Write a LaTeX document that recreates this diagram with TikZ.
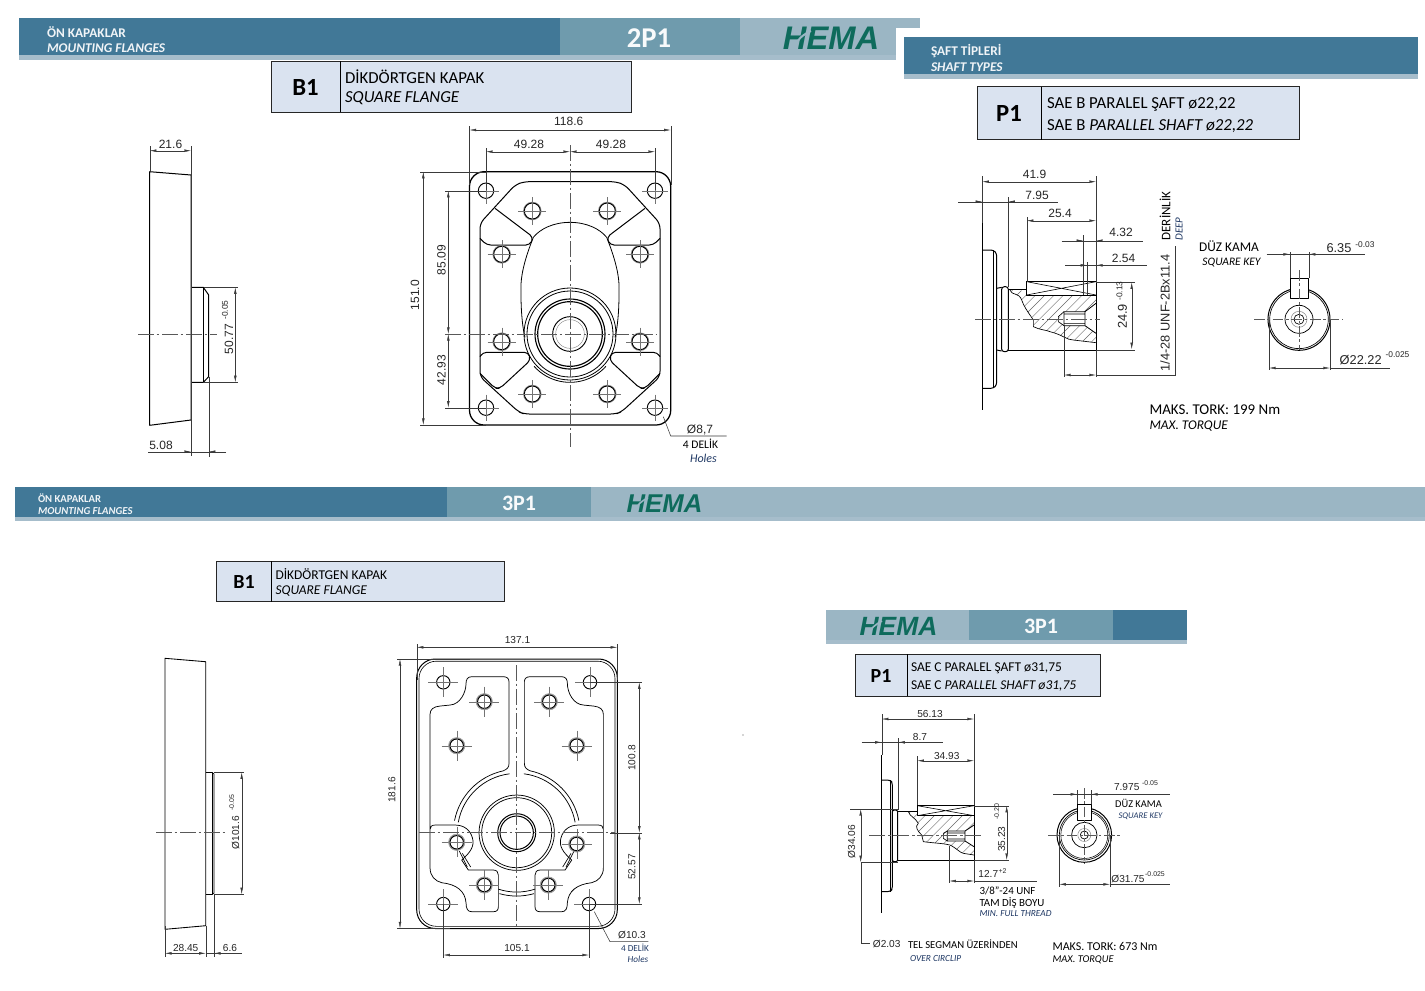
\documentclass[tikz,border=0pt]{standalone}
\usepackage{fontspec}
\setmainfont{Carlito}
\newfontfamily\arialf{Liberation Sans}
\usetikzlibrary{arrows.meta,calc}
\definecolor{hdark}{HTML}{417897}
\definecolor{hmid}{HTML}{6F9BAD}
\definecolor{hlight}{HTML}{9BB6C4}
\definecolor{hshadow}{HTML}{A6BDCB}
\definecolor{boxfill}{HTML}{DAE3F0}
\definecolor{logog}{HTML}{0E6B5C}
\definecolor{dimc}{HTML}{3A3A3A}
\definecolor{linkb}{HTML}{1F3864}
\tikzset{
 part/.style={draw=black,line width=.75pt,line join=round},
 thinp/.style={draw=black,line width=.45pt},
 ghost/.style={draw=black!45,line width=.5pt},
 dimln/.style={draw=dimc,line width=.3pt},
 crossln/.style={draw=black!55,line width=.3pt},
 dimarr/.style={dimln,{Latex[length=5pt,width=2pt]}-{Latex[length=5pt,width=2pt]}},
 arrend/.style={dimln,-{Latex[length=5pt,width=2pt]}},
 cline/.style={draw=black!65,line width=.35pt,dash pattern=on 12pt off 2pt on 2pt off 2pt},
 hatchln/.style={draw=black!60,line width=.3pt},
 lab/.style={inner sep=0pt,outer sep=0pt,text=black!85},
 dimA/.style={font=\arialf\fontsize{9}{10}\selectfont},
 dimL/.style={font=\arialf\fontsize{9.6}{11}\selectfont},
 dimB/.style={font=\arialf\fontsize{7.6}{9}\selectfont},
 dimS/.style={font=\arialf\fontsize{6.3}{7}\selectfont},
 dimT/.style={font=\arialf\fontsize{5.2}{6}\selectfont},
 hd/.style={font=\bfseries\fontsize{10}{12}\selectfont,text=white!92!hdark},
 hdi/.style={font=\bfseries\itshape\fontsize{10}{12}\selectfont,text=white!92!hdark},
 hdsm/.style={font=\bfseries\fontsize{8}{9}\selectfont,text=white!92!hdark},
 hdsmi/.style={font=\bfseries\itshape\fontsize{8}{9}\selectfont,text=white!92!hdark},
 big/.style={font=\bfseries\fontsize{21.5}{24}\selectfont,text=white!95!hmid},
 bigs/.style={font=\bfseries\fontsize{16.5}{18}\selectfont,text=white!95!hmid},
 logo/.style={font=\arialf\bfseries\itshape\fontsize{24.5}{26}\selectfont,text=logog},
 logos/.style={font=\arialf\bfseries\itshape\fontsize{19.3}{20}\selectfont,text=logog},
 logot/.style={font=\arialf\bfseries\itshape\fontsize{19.8}{20}\selectfont,text=logog},
 logobar/.style={draw=hlight,line width=1.5pt},
 boxbg/.style={draw=black!85,line width=.7pt,fill=boxfill},
 tagb/.style={font=\bfseries\fontsize{18.5}{20}\selectfont,text=black},
 tags/.style={font=\bfseries\fontsize{15}{17}\selectfont,text=black},
 ca/.style={font=\fontsize{12.6}{14}\selectfont,text=black,anchor=west},
 cai/.style={font=\itshape\fontsize{12.6}{14}\selectfont,text=black,anchor=west},
 cb/.style={font=\fontsize{10.1}{12}\selectfont,text=black,anchor=west},
 cbi/.style={font=\itshape\fontsize{10.1}{12}\selectfont,text=black,anchor=west},
}
\newcounter{tn}
\newcommand{\tx}[4][]{\stepcounter{tn}\node[lab,#1] (t\arabic{tn}) at (#2,#3) {#4};}
\newcommand{\holeA}[4]{\draw[part,line width=.7pt] (#1,#2) circle (#3);
 \draw[crossln] (#1-#4,#2)--(#1+#4,#2) (#1,#2-#4)--(#1,#2+#4);}
\newcommand{\holeB}[4]{\draw[ghost,line width=.8pt] (#1,#2) circle (#3+.7);\holeA{#1}{#2}{#3}{#4}}
\begin{document}
\begin{tikzpicture}[x=.75pt,y=-.75pt]
\useasboundingbox (0,0) rectangle (1425,990);
\fill[white] (0,0) rectangle (1425,990);
%%%% header bars
\fill[hlight] (740,18) rectangle (920,28);
\fill[hlight] (740,18) rectangle (896,55);
\fill[hshadow] (19,55) rectangle (896,59.5);
\fill[hdark] (19,18) rectangle (560,55);
\fill[hmid] (560,18) rectangle (740,55);
\fill[hshadow] (904,74) rectangle (1418,78.5);
\fill[hdark] (904,37) rectangle (1418,74);
\fill[hshadow] (15,517) rectangle (1425,520.5);
\fill[hdark] (15,487) rectangle (447,517);
\fill[hmid] (447,487) rectangle (591,517);
\fill[hlight] (591,487) rectangle (1425,517);
\fill[hshadow] (826,640) rectangle (1187,643.5);
\fill[hlight] (826,610) rectangle (969,640);
\fill[hmid] (969,610) rectangle (1113,640);
\fill[hdark] (1113,610) rectangle (1187,640);
\tx[hd,anchor=west]{47}{32.5}{ÖN KAPAKLAR}
\tx[hdi,anchor=west]{47}{48.5}{MOUNTING FLANGES}
\tx[big]{649}{38}{2P1}
\tx[logo]{831}{38.5}{HEMA}
\draw[logobar] (794,47.5) .. controls (797,40) and (802,35) .. (811,31);
\tx[hd,anchor=west]{931}{51.5}{ŞAFT TİPLERİ}
\tx[hdi,anchor=west]{931}{67.5}{SHAFT TYPES}
\tx[hdsm,anchor=west]{38}{498.5}{ÖN KAPAKLAR}
\tx[hdsmi,anchor=west]{38}{511.5}{MOUNTING FLANGES}
\tx[bigs]{519}{503}{3P1}
\tx[logos]{664.5}{503.5}{HEMA}
\draw[logobar,line width=1.2pt] (635,511) .. controls (637,505) and (641,501) .. (648,498);
\tx[logot]{898.5}{626.5}{HEMA}
\draw[logobar,line width=1.2pt] (868.5,634.5) .. controls (870.5,628.5) and (875,624.5) .. (882,621);
\tx[bigs]{1041}{626}{3P1}
%%%% title boxes
\draw[boxbg] (271,61) rectangle (631,112); \draw[line width=.7pt] (340,61)--(340,112);
\tx[tagb]{305.5}{87.5}{B1}
\tx[ca]{345}{76.5}{DİKDÖRTGEN KAPAK}
\tx[cai]{345}{98.5}{SQUARE FLANGE}
\draw[boxbg] (977,86.5) rectangle (1299,139.5); \draw[line width=.7pt] (1041,86.5)--(1041,139.5);
\tx[tagb]{1009}{113.5}{P1}
\tx[ca]{1047}{104.5}{SAE B PARALEL ŞAFT ø22,22}
\tx[ca]{1047}{126.5}{SAE B \textit{PARALLEL SHAFT ø22,22}}
\draw[boxbg] (216.5,561) rectangle (504,601.5); \draw[line width=.7pt] (271,561)--(271,601.5);
\tx[tags]{244}{582}{B1}
\tx[cb]{275.5}{574}{DİKDÖRTGEN KAPAK}
\tx[cbi]{275.5}{591}{SQUARE FLANGE}
\draw[boxbg] (855,654) rectangle (1100,696); \draw[line width=.7pt] (907,654)--(907,696);
\tx[tags]{881}{676}{P1}
\tx[cb]{911}{668.5}{SAE C PARALEL ŞAFT ø31,75}
\tx[cb]{911}{685.5}{SAE C \textit{PARALLEL SHAFT ø31,75}}
%%%% 2P1 side view
\draw[part] (149.7,171.7)--(191,175)--(191,420)--(149.7,425.3)--cycle;
\draw[part] (191,287.3)--(203.3,287.3)--(208.7,295)--(208.7,376.7)--(203.3,382.3)--(191,382.3);
\draw[part] (203.3,287.3)--(203.3,382.3);
\draw[cline] (138,334.3)--(217,334.3);
\draw[dimarr] (149.7,150.7)--(191,150.7);
\draw[dimln] (149.7,146)--(149.7,171) (191,146)--(191,456) (204,287.3)--(238,287.3) (204,382.3)--(238,382.3) (208.7,377)--(208.7,457);
\draw[dimarr] (235.3,287.3)--(235.3,382.3);
\draw[dimln] (148,451.7)--(191,451.7);
\draw[arrend] (170,451.7)--(191,451.7);
\draw[dimln] (191,451.7)--(226,451.7);
\draw[arrend] (226,451.7)--(208.7,451.7);
\tx[dimA]{170.5}{144}{21.6}
\tx[dimA,rotate=90]{229}{339}{50.77}
\tx[dimS,rotate=90]{225}{310}{-0.05}
\tx[dimA]{161}{445.5}{5.08}
%%%% 2P1 front view
\draw[part,line width=.95pt,rounded corners=11pt] (469.5,171.7) rectangle (670.7,425);
\foreach \s in {1,-1}{
\begin{scope}[shift={(570,334)},xscale=\s,x=.25pt,y=-.25pt]
 \draw[part,rounded corners=4pt] (0,-457)--(-138,-457)--(-165,-447)--(-270,-332)--(-270,128)--(-155,233)--(-138,240)--(0,240);
 \draw[part,rounded corners=3pt] (-225,-377)--(-110,-290)--(-120,-267)--(-250,-267)--(-270,-287);
 \draw[part,rounded corners=3pt] (-270,68)--(-262,55)--(-125,55)--(-118,78)--(-210,163)--(-225,163)--(-270,118);
 \draw[part,line width=.6pt] (0,-335) .. controls (-50,-335) and (-90,-315) .. (-110,-290) .. controls (-130,-240) and (-145,-190) .. (-147,-150) .. controls (-148,-90) and (-145,-30) .. (-135,10);
\end{scope}}
\begin{scope}[shift={(570,334)},x=.25pt,y=-.25pt]
 \draw[part,line width=.6pt] (42:145) arc[start angle=42,end angle=138,radius=145];
 \draw[part,line width=.6pt] (0,0) circle (138) (0,0) circle (129);
 \draw[part,line width=.85pt] (0,0) circle (105) (0,0) circle (97);
 \draw[part,line width=.7pt] (0,0) circle (52);
 \draw[ghost,line width=.35pt] (0,0) circle (43);
\end{scope}
\holeA{486}{190.7}{7.7}{13}\holeA{655}{190.7}{7.7}{13}\holeA{486}{407.7}{7.7}{13}\holeA{655}{407.7}{7.7}{13}
\holeB{532.3}{211}{8}{14}\holeB{607.3}{211}{8}{14}\holeB{501.7}{254.3}{8}{14}\holeB{640}{254.3}{8}{14}
\holeB{501.7}{341.7}{8}{14}\holeB{640}{341.7}{8}{14}\holeB{532.3}{394}{8}{14}\holeB{607.3}{394}{8}{14}
\draw[cline] (570,145)--(570,447);
\draw[cline] (445,334)--(657,334);
\draw[dimln] (469.5,126)--(469.5,185) (670.7,126)--(670.7,185) (486,148)--(486,190) (655,148)--(655,190);
\draw[dimarr] (469.5,130)--(670.7,130);
\draw[dimarr] (486,151.7)--(570,151.7);
\draw[dimarr] (570,151.7)--(655,151.7);
\draw[dimln] (420,171.7)--(486,171.7) (420,425)--(486,425) (445,190.7)--(486,190.7) (445,407.7)--(486,407.7);
\draw[dimarr] (423.3,171.7)--(423.3,425);
\draw[dimarr] (448.3,190.7)--(448.3,334);
\draw[dimarr] (448.3,334)--(448.3,407.7);
\tx[dimA]{568.7}{121}{118.6}
\tx[dimA]{529}{144.5}{49.28}
\tx[dimA]{611}{144.5}{49.28}
\tx[dimA,rotate=90]{415}{295}{151.0}
\tx[dimA,rotate=90]{441.5}{260}{85.09}
\tx[dimA,rotate=90]{441.5}{370}{42.93}
\draw[dimln,line width=.4pt] (663.3,416.7)--(670.7,436)--(726.7,436);
\tx[dimA]{700}{430}{Ø8,7}
\tx[font=\fontsize{8.7}{10}\selectfont,text=black]{700.5}{444}{4 DELİK}
\tx[font=\itshape\fontsize{9}{10}\selectfont,text=linkb]{703.5}{458.5}{Holes}
%%%% P1 shaft 2P1
\begin{scope}[shift={(950,160)},x=.25pt,y=-.25pt]
 \begin{scope}
 \clip (180,390)..controls (190,410) and (205,395) .. (215,420) .. controls (222,440) and (230,450) .. (250,480) -- (250,500) .. controls (270,510) and (290,510) .. (300,515) .. controls (340,525) and (350,540) .. (370,540) -- (438,548)--(438,405)--(230,405)--(225,392)--cycle;
 \foreach \i in {-20,8,...,460}{\draw[hatchln] (\i,570)--(\i+200,370);}
 \end{scope}
 \fill[white] (405,455)--(342,455)--(342,497)--(405,497)--(438,520)--(438,430)--cycle;
 \fill[white] (342,455)--(325,478)--(342,497)--cycle;
 \draw[part,line width=.5pt] (180,390)..controls (190,410) and (205,395) .. (215,420) .. controls (222,440) and (230,450) .. (250,480) -- (250,500) .. controls (270,510) and (290,510) .. (300,515) .. controls (340,525) and (350,540) .. (370,540) -- (438,548);
 \draw[part] (97,190)--(97,750);
 \draw[part,rounded corners=2pt] (97,270)--(130,270)--(140,280)--(140,675)--(130,685)--(97,685);
 \draw[part,line width=.5pt] (130,270)--(130,685);
 \draw[part,rounded corners=1.5pt] (140,385)--(155,382) (140,570)--(155,573);
 \draw[part,rounded corners=2pt] (155,380) rectangle (175,575);
 \draw[part] (175,388)--(230,388) (175,570)--(438,570)--(438,365)--(230,365)--(230,405)--(438,405);
 \draw[thinp] (230,365)--(438,405) (230,405)--(438,365);
 \draw[part,line width=.6pt] (438,430)--(405,455)--(342,455)--(342,497)--(405,497)--(438,520);
 \draw[part,line width=.5pt] (405,455)--(405,497) (342,455)--(325,470)--(325,485)--(342,497) (342,462)--(405,462) (342,490)--(405,490);
 \draw[cline] (75,478)--(450,478);
\end{scope}
\draw[dimln] (982.3,176)--(982.3,223) (1096,176)--(1096,282) (1008.3,197)--(1008.3,287) (1026.7,217)--(1026.7,282) (1083.3,235)--(1083.3,295) (1087.3,262)--(1087.3,295);
\draw[dimarr] (982.3,181.7)--(1096,181.7);
\draw[dimln] (958.3,201.7)--(1058.3,201.7);
\draw[arrend] (962,201.7)--(982.3,201.7);
\draw[arrend] (1026,201.7)--(1008.3,201.7);
\draw[dimarr] (1026.7,220.7)--(1096,220.7);
\draw[dimln] (1061.7,240.7)--(1143.3,240.7);
\draw[arrend] (1066,240.7)--(1083.3,240.7);
\draw[arrend] (1114,240.7)--(1096,240.7);
\draw[dimln] (1065,265.3)--(1146.7,265.3);
\draw[arrend] (1070,265.3)--(1087.3,265.3);
\draw[arrend] (1114,265.3)--(1096,265.3);
\draw[dimln] (1096,282)--(1135,282) (1096,350)--(1135,350);
\draw[dimarr] (1131.7,282.3)--(1131.7,349.3);
\draw[dimln] (1064,326)--(1064,377) (1096,350)--(1096,377) (1096,375)--(1175,375)--(1175,246);
\draw[dimarr] (1064,375)--(1096,375);
\tx[dimA]{1034.5}{174}{41.9}
\tx[dimA]{1037}{195.5}{7.95}
\tx[dimA]{1060}{213.5}{25.4}
\tx[dimA]{1121}{232.5}{4.32}
\tx[dimA]{1123.5}{258.5}{2.54}
\tx[dimL,rotate=90]{1122.5}{316.5}{24.9}
\tx[dimS,rotate=90]{1119.5}{291}{-0.13}
\tx[dimL,rotate=90]{1165}{313}{1/4-28 UNF-2Bx11.4}
\tx[font=\fontsize{9.8}{11}\selectfont,text=black,rotate=90]{1165}{216}{DERİNLİK}
\tx[font=\itshape\fontsize{8.2}{10}\selectfont,text=linkb,rotate=90]{1179}{229}{DEEP}
% key view 2P1
\draw[part] (1299,319.3) circle (31);
\draw[part,line width=.5pt] (1299,319.3) circle (29.3);
\fill[white] (1290,278.3) rectangle (1308.7,298.3);
\draw[part] (1290,278.3) rectangle (1308.7,298.3);
\draw[part,line width=.55pt] (1299,319.3) circle (14);
\draw[ghost,line width=.4pt] (1299,319.3) circle (8);
\draw[part,line width=.5pt] (1299,319.3) circle (5);
\draw[cline,dash pattern=on 8pt off 2pt on 2pt off 2pt] (1254,319.3)--(1343,319.3) (1299,270)--(1299,350);
\draw[dimln] (1290,252)--(1290,278) (1308.7,252)--(1308.7,278) (1269,320)--(1269,370) (1330,320)--(1330,370);
\draw[dimln] (1266.7,254.3)--(1365,254.3);
\draw[arrend] (1269,254.3)--(1290,254.3);
\draw[arrend] (1328,254.3)--(1308.7,254.3);
\draw[dimln] (1330,368)--(1390,368);
\draw[dimarr] (1269,368)--(1330,368);
\tx[dimL]{1339}{248}{6.35}
\tx[dimS]{1365}{244.5}{-0.03}
\tx[dimL]{1360.7}{360}{Ø22.22}
\tx[dimS]{1397.5}{355}{-0.025}
\tx[font=\fontsize{10}{12}\selectfont,text=black]{1229}{246}{DÜZ KAMA}
\tx[font=\itshape\fontsize{8.6}{10}\selectfont,text=black]{1231.5}{262.5}{SQUARE KEY}
\tx[font=\fontsize{11.2}{13}\selectfont,text=black,anchor=west]{1149.5}{410}{MAKS. TORK: 199 Nm}
\tx[font=\itshape\fontsize{10}{12}\selectfont,text=black,anchor=west]{1149.5}{426.5}{MAX. TORQUE}
%%%% 3P1 side view
\draw[part,line width=.65pt] (165,658.3)--(205.7,661.7)--(205.7,925.7)--(165,929.3)--cycle;
\draw[part,line width=.6pt] (205.7,772.3)--(212.7,772.3)--(212.7,894.3)--(205.7,894.3);
\draw[part,line width=.6pt] (212.7,773)--(214,774)--(214,893)--(212.7,894);
\draw[cline] (156,832.7)--(226,832.7);
\draw[dimln] (214,772.3)--(244,772.3) (214,894.3)--(244,894.3) (165,926)--(165,957) (205.7,926)--(205.7,957) (214,894)--(214,957);
\draw[dimarr] (241.7,772.3)--(241.7,894.3);
\draw[dimarr] (165,953.3)--(205.7,953.3);
\draw[dimln] (205.7,953.3)--(241.7,953.3);
\draw[arrend] (232,953.3)--(214,953.3);
\tx[dimB,rotate=90]{235.7}{832.7}{Ø101.6}
\tx[dimT,rotate=90]{231.7}{803}{-0.05}
\tx[dimB]{185.7}{947.5}{28.45}
\tx[dimB]{230}{947.5}{6.6}
%%%% 3P1 front view
\draw[part,line width=.75pt,rounded corners=14pt] (416.7,659) rectangle (617.3,928.5);
\draw[part,line width=.45pt,rounded corners=13pt] (419,661.2) rectangle (615,926.3);
\foreach \s in {1,-1}{
\begin{scope}[shift={(516.7,832.7)},xscale=\s,x=.25pt,y=-.25pt]
 \draw[part,line width=.55pt] (-23,-453)--(-23,-208) .. controls (-23,-195) and (-30,-190) .. (-40,-186);
 \draw[part,line width=.55pt] (-23,-453) .. controls (-23,-463) and (-30,-468) .. (-40,-468) -- (-135,-468) .. controls (-147,-468) and (-152,-460) .. (-152,-448) .. controls (-152,-420) and (-170,-385) .. (-200,-383) -- (-230,-380) .. controls (-250,-378) and (-260,-370) .. (-260,-355) -- (-260,105) .. controls (-260,130) and (-245,145) .. (-225,150) .. controls (-180,155) and (-155,175) .. (-152,210) .. controls (-152,228) and (-147,237) .. (-135,237) -- (-70,237) .. controls (-60,237) and (-55,232) .. (-55,222) -- (-55,127) .. controls (-55,118) and (-60,112) .. (-70,112) -- (-145,112) -- (-165,82) .. controls (-140,60) and (-125,40) .. (-133,15) .. controls (-140,-10) and (-160,-23) .. (-185,-23) -- (-245,-23) .. controls (-255,-23) and (-260,-18) .. (-260,-10);
 \draw[part,line width=.55pt] (257.9:190) arc[start angle=257.9,end angle=191,radius=190];
 \draw[part,line width=.55pt] (263:178) arc[start angle=263,end angle=190,radius=178];
 \draw[part,line width=.5pt] (-172,55)--(-148,103) (-163,62)--(-138,103);
\end{scope}}
\begin{scope}[shift={(516.7,832.7)},x=.25pt,y=-.25pt]
 \draw[part,line width=.55pt] (0,0) circle (113) (0,0) circle (105);
 \draw[part,line width=.75pt] (0,0) circle (57) (0,0) circle (50);
 \draw[part,line width=.55pt] (74.2:190) arc[start angle=74.2,end angle=105.8,radius=190] (72:178) arc[start angle=72,end angle=108,radius=178];
\end{scope}
\holeA{443.3}{682.3}{6.7}{15}\holeA{590}{682.3}{6.7}{15}\holeA{443.3}{904}{6.7}{15}\holeA{589}{904}{6.7}{15}
\holeB{484.3}{701.7}{6.7}{15}\holeB{549.3}{701.7}{6.7}{15}\holeB{456.7}{745.7}{6.7}{15}\holeB{576.7}{745.7}{6.7}{15}
\holeB{456.7}{842.3}{6.7}{15}\holeB{576.7}{844}{6.7}{15}\holeB{484.3}{885}{6.7}{15}\holeB{548.3}{885}{6.7}{15}
\foreach \p/\q in {456.7/842.3,576.7/844,484.3/701.7,549.3/701.7,456.7/745.7,576.7/745.7,484.3/885,548.3/885}{\draw[ghost,line width=.35pt] (\p,\q) circle (8.2);}
\draw[cline] (516.7,665)--(516.7,928);
\draw[cline] (419,832.7)--(615,832.7);
\draw[dimln] (416.7,644)--(416.7,680) (617.3,644)--(617.3,680) (397,659)--(470,659) (397,928.5)--(450,928.5) (590,682.3)--(642,682.3) (589,904)--(642,904) (610,832.7)--(642,832.7) (443.3,904)--(443.3,958) (589,904)--(589,958);
\draw[dimarr] (416.7,647.3)--(617.3,647.3);
\draw[dimarr] (400,659)--(400,928.5);
\draw[dimarr] (639.3,682.3)--(639.3,832.7);
\draw[dimarr] (639.3,832.7)--(639.3,904);
\draw[dimarr] (443.3,955)--(589,955);
\tx[dimB]{517.5}{639.5}{137.1}
\tx[dimB,rotate=90]{392}{790}{181.6}
\tx[dimB,rotate=90]{632}{758}{100.8}
\tx[dimB,rotate=90]{632}{867}{52.57}
\tx[dimB]{517}{947.5}{105.1}
\draw[dimln,line width=.4pt] (594.3,911.7)--(610,941.7)--(648.3,941.7);
\tx[dimB]{632}{935}{Ø10.3}
\tx[font=\fontsize{6.9}{8}\selectfont,text=linkb]{635}{948}{4 DELİK}
\tx[font=\itshape\fontsize{6.9}{8}\selectfont,text=linkb]{638}{959.5}{Holes}
%%%% P1 shaft 3P1
\begin{scope}[shift={(840,700)},x=.25pt,y=-.25pt]
 \begin{scope}
 \clip (205,335) .. controls (210,350) and (225,352) .. (235,370) .. controls (222,380) and (235,395) .. (245,405) -- (250,425) .. controls (290,430) and (310,430) .. (330,435) .. controls (350,445) and (360,458) .. (370,460) -- (402,465) -- (402,347) -- (232,347) -- (232,335) -- cycle;
 \foreach \i in {0,28,...,460}{\draw[hatchln] (\i,490)--(\i+170,320);}
 \end{scope}
 \fill[white] (375,393)--(322,393)--(322,423)--(375,423)--(402,440)--(402,375)--cycle;
 \fill[white] (322,393)--(310,405)--(322,423)--cycle;
 \draw[part,line width=.5pt] (205,335) .. controls (210,350) and (225,352) .. (235,370) .. controls (222,380) and (235,395) .. (245,405) -- (250,425) .. controls (290,430) and (310,430) .. (330,435) .. controls (350,445) and (360,458) .. (370,460) -- (402,465);
 \draw[part] (125,165)--(125,640);
 \draw[part,rounded corners=2pt] (125,240)--(150,240)--(157,247)--(157,568)--(150,575)--(125,575);
 \draw[part,line width=.5pt] (150,240)--(150,575);
 \draw[part,rounded corners=1.5pt] (157,330) rectangle (173,485);
 \draw[part] (173,335)--(232,335) (173,480)--(402,480)--(402,317)--(232,317)--(232,347)--(402,347);
 \draw[thinp] (232,317)--(402,347) (232,347)--(402,317);
 \draw[part,line width=.6pt] (402,375)--(375,393)--(322,393)--(322,423)--(375,423)--(402,440);
 \draw[part,line width=.5pt] (375,393)--(375,423) (322,393)--(310,400)--(310,415)--(322,423) (322,399)--(375,399) (322,417)--(375,417);
 \draw[cline] (88,405)--(425,405);
\end{scope}
\draw[dimln] (881.7,714)--(881.7,755) (974,714)--(974,805) (898.3,738)--(898.3,810) (917.3,756)--(917.3,805) (974,805.7)--(1009,805.7) (974,860)--(1009,860) (850,809)--(898,809) (860.7,862.3)--(898,862.3) (949.3,846)--(949.3,883) (974,860)--(974,883);
\draw[dimarr] (881.7,719)--(974,719);
\draw[dimln] (861.7,742.3)--(943.3,742.3);
\draw[arrend] (865,742.3)--(881.7,742.3);
\draw[arrend] (916,742.3)--(898.3,742.3);
\draw[dimarr] (917.3,760.7)--(974,760.7);
\draw[dimarr] (860.7,809)--(860.7,862.3);
\draw[dimln] (860.7,862)--(860.7,942.7)--(870,942.7);
\draw[dimarr] (1006.7,805.7)--(1006.7,860);
\draw[dimln] (974,881)--(1036.7,881);
\draw[dimarr] (949.3,881)--(974,881);
\tx[dimB]{930}{714}{56.13}
\tx[dimB]{920}{737.3}{8.7}
\tx[dimB]{946.7}{755.5}{34.93}
\tx[dimB,rotate=90]{851.7}{841.7}{Ø34.06}
\tx[dimB,rotate=90]{1001.7}{839.3}{35.23}
\tx[dimT,rotate=90]{996.7}{812}{-0.20}
\tx[dimB]{988.3}{874.3}{12.7}
\tx[dimT]{1002.5}{871}{+2}
\tx[font=\fontsize{8.2}{10}\selectfont,text=black,anchor=west]{979.5}{891}{3/8"-24 UNF}
\tx[font=\fontsize{8.2}{10}\selectfont,text=black,anchor=west]{979.5}{902.5}{TAM DİŞ BOYU}
\tx[font=\itshape\fontsize{7}{8}\selectfont,text=linkb,anchor=west]{979.5}{914}{MIN. FULL THREAD}
\tx[dimB]{886.7}{944}{Ø2.03}
\tx[font=\fontsize{8}{10}\selectfont,text=black,anchor=west]{908}{944}{TEL SEGMAN ÜZERİNDEN}
\tx[font=\itshape\fontsize{7}{8}\selectfont,text=linkb,anchor=west]{910}{958}{OVER CIRCLIP}
\tx[font=\fontsize{9}{10}\selectfont,text=black,anchor=west]{1052.5}{946}{MAKS. TORK: 673 Nm}
\tx[font=\itshape\fontsize{7.8}{9}\selectfont,text=black,anchor=west]{1052.5}{959.5}{MAX. TORQUE}
% key view 3P1
\draw[part] (1084.3,835) circle (27.3);
\draw[part,line width=.5pt] (1084.3,835) circle (25);
\draw[part,line width=.4pt] (1084.3,835) circle (23.5);
\fill[white] (1077.3,804) rectangle (1091,820);
\draw[part] (1077.3,804) rectangle (1091,820);
\draw[part,line width=.55pt] (1084.3,835) circle (12.7);
\draw[ghost,line width=.4pt] (1084.3,835) circle (6.5);
\draw[part,line width=.5pt] (1084.3,835) circle (4);
\draw[cline,dash pattern=on 8pt off 2pt on 2pt off 2pt] (1048,835)--(1120,835) (1084.3,788)--(1084.3,863);
\draw[dimln] (1077.3,790)--(1077.3,804) (1091,790)--(1091,804) (1059.3,835)--(1059.3,887) (1110,835)--(1110,887);
\draw[dimln] (1053.3,794.3)--(1170,794.3);
\draw[arrend] (1057,794.3)--(1077.3,794.3);
\draw[arrend] (1110,794.3)--(1091,794.3);
\draw[dimln] (1110,884.3)--(1170,884.3);
\draw[dimarr] (1059.3,884.3)--(1110,884.3);
\tx[dimB]{1126.7}{787.3}{7.975}
\tx[dimT]{1150}{783}{-0.05}
\tx[dimB]{1128}{878.5}{Ø31.75}
\tx[dimT]{1155}{874}{-0.025}
\tx[font=\fontsize{7.8}{9}\selectfont,text=black]{1138.5}{803.7}{DÜZ KAMA}
\tx[font=\itshape\fontsize{6.5}{8}\selectfont,text=linkb]{1140.5}{816}{SQUARE KEY}
\fill[black!70] (743,735) circle (.7);
\end{tikzpicture}
\end{document}
